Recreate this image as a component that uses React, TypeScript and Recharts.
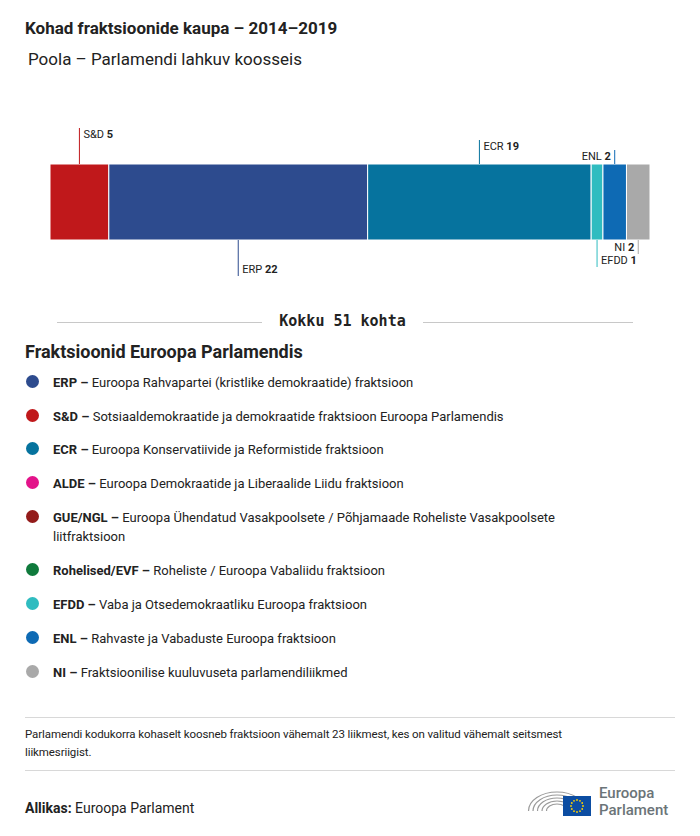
import { Bar, BarChart, LabelList, XAxis, YAxis } from 'recharts';

// seats per group, in bar order
const factions = ['S&D', 'ERP', 'ECR', 'EFDD', 'ENL', 'NI'];
const seats = [5, 22, 19, 1, 2, 2];
const total = 51;

const legendCodes = ['ERP', 'S&D', 'ECR', 'ALDE', 'GUE/NGL', 'Rohelised/EVF', 'EFDD', 'ENL', 'NI'];
const legendNames = [
    'Euroopa Rahvapartei (kristlike demokraatide) fraktsioon',
    'Sotsiaaldemokraatide ja demokraatide fraktsioon Euroopa Parlamendis',
    'Euroopa Konservatiivide ja Reformistide fraktsioon',
    'Euroopa Demokraatide ja Liberaalide Liidu fraktsioon',
    'Euroopa Ühendatud Vasakpoolsete / Põhjamaade Roheliste Vasakpoolsete',
    'Roheliste / Euroopa Vabaliidu fraktsioon',
    'Vaba ja Otsedemokraatliku Euroopa fraktsioon',
    'Rahvaste ja Vabaduste Euroopa fraktsioon',
    'Fraktsioonilise kuuluvuseta parlamendiliikmed',
];
// second line of wrapped legend entries
const legendCont: Record<string, string> = { 'GUE/NGL': 'liitfraktsioon' };

const colors: Record<string, string> = {
    ERP: '#2d4b8e',
    'S&D': '#c0181b',
    ECR: '#06739e',
    ALDE: '#e3138a',
    'GUE/NGL': '#931b1a',
    'Rohelised/EVF': '#0f7a3c',
    EFDD: '#2fbcc0',
    ENL: '#0e6ab4',
    NI: '#a9a9a9',
};

// callout placement for each segment label
const callouts: Record<string, { side: 'top' | 'bottom'; len: number; anchor: 'start' | 'end' }> = {
    'S&D': { side: 'top', len: 36, anchor: 'start' },
    ERP: { side: 'bottom', len: 36, anchor: 'start' },
    ECR: { side: 'top', len: 24, anchor: 'start' },
    EFDD: { side: 'bottom', len: 27, anchor: 'start' },
    ENL: { side: 'top', len: 14, anchor: 'end' },
    NI: { side: 'bottom', len: 14, anchor: 'end' },
};

const row: Record<string, string | number> = { name: 'Poola' };
factions.forEach((f, i) => (row[f] = seats[i]));
const data = [row];

const FONT = 'Roboto, "Noto Sans", sans-serif';

function makeCallout(name: string, value: number) {
    return (props: any) => {
        const { x, y, width, height } = props;
        const c = callouts[name];
        const cx = x + width / 2;
        const color = colors[name];
        const y0 = c.side === 'top' ? y - c.len : y + height;
        const y1 = c.side === 'top' ? y : y + height + c.len;
        const ty = c.side === 'top' ? y - c.len + 10 : y + height + c.len - 3;
        const tx = c.anchor === 'start' ? cx + 4 : cx - 4;
        return (
            <g>
                <line x1={cx} x2={cx} y1={y0} y2={y1} stroke={color} strokeWidth={1} />
                <text x={tx} y={ty} textAnchor={c.anchor} fontSize={11} fill="#222" fontFamily={FONT}>
                    {name} <tspan fontWeight="bold">{value}</tspan>
                </text>
            </g>
        );
    };
}

function EPLogo() {
    const stars = Array.from({ length: 12 }, (_, i) => i);
    return (
        <svg width={150} height={40} viewBox="0 0 150 40">
            {[19, 16, 13, 10, 7].map((r, i) => (
                <path
                    key={i}
                    d={`M ${30 - r * 1.5} 32 A ${r * 1.5} ${r} 0 0 1 ${30 + r * 1.5} 32`}
                    fill="none"
                    stroke="#9a9a9a"
                    strokeWidth={1.2}
                />
            ))}
            <rect x={36} y={17} width={28} height={20} fill="#0c4da2" />
            {stars.map((i) => {
                const a = (i / 12) * Math.PI * 2;
                return <circle key={i} cx={50 + Math.cos(a) * 6} cy={27 + Math.sin(a) * 6} r={0.9} fill="#ffd200" />;
            })}
            <text x={72} y={19} fontSize={15} fontWeight={500} fill="#6b7478" fontFamily={FONT}>
                Euroopa
            </text>
            <text x={72} y={36} fontSize={15} fontWeight={500} fill="#6b7478" fontFamily={FONT}>
                Parlament
            </text>
        </svg>
    );
}

export default function App() {
    const tops = [373, 407, 440, 474, 508, 561, 595, 629, 663];
    return (
        <div
            style={{
                position: 'absolute',
                top: 0,
                left: 0,
                width: 700,
                height: 836,
                background: '#fff',
                fontFamily: FONT,
                color: '#222',
            }}
        >
            <div style={{ position: 'absolute', left: 25, top: 18, fontSize: 17, fontWeight: 700 }}>
                Kohad fraktsioonide kaupa – 2014–2019
            </div>
            <div style={{ position: 'absolute', left: 28, top: 49, fontSize: 17 }}>
                Poola – Parlamendi lahkuv koosseis
            </div>

            <div style={{ position: 'absolute', left: 0, top: 100 }}>
                <BarChart
                    width={700}
                    height={200}
                    data={data}
                    layout="vertical"
                    margin={{ top: 64, right: 50, bottom: 60, left: 50 }}
                    barCategoryGap={0}
                >
                    <XAxis type="number" domain={[0, total]} hide />
                    <YAxis type="category" dataKey="name" hide width={0} />
                    {factions.map((f, i) => (
                        <Bar
                            key={f}
                            dataKey={f}
                            stackId="seats"
                            fill={colors[f]}
                            stroke="#fff"
                            strokeWidth={1}
                            isAnimationActive={false}
                        >
                            <LabelList dataKey={f} content={makeCallout(f, seats[i])} />
                        </Bar>
                    ))}
                </BarChart>
            </div>

            {/* total line */}
            <div style={{ position: 'absolute', left: 57, width: 205, top: 322, borderTop: '1px solid #c8c8c8' }} />
            <div style={{ position: 'absolute', left: 423, width: 210, top: 322, borderTop: '1px solid #c8c8c8' }} />
            <div
                style={{
                    position: 'absolute',
                    left: 262,
                    width: 161,
                    top: 312,
                    textAlign: 'center',
                    fontFamily: '"DejaVu Sans Mono", monospace',
                    fontWeight: 700,
                    fontSize: 15,
                }}
            >
                Kokku {total} kohta
            </div>

            <div style={{ position: 'absolute', left: 25, top: 341, fontSize: 18, fontWeight: 700 }}>
                Fraktsioonid Euroopa Parlamendis
            </div>

            {legendCodes.map((code, i) => (
                <div key={code} style={{ position: 'absolute', left: 25, top: tops[i], width: 600 }}>
                    <span
                        style={{
                            position: 'absolute',
                            left: 1,
                            top: 2,
                            width: 13,
                            height: 13,
                            borderRadius: '50%',
                            background: colors[code],
                        }}
                    />
                    <div style={{ marginLeft: 28, fontSize: 13, lineHeight: '19px', whiteSpace: 'nowrap' }}>
                        <b>{code} – </b>
                        {legendNames[i]}
                    </div>
                    {legendCont[code] && (
                        <div style={{ marginLeft: 28, fontSize: 13, lineHeight: '19px' }}>{legendCont[code]}</div>
                    )}
                </div>
            ))}

            <div style={{ position: 'absolute', left: 25, width: 650, top: 717, borderTop: '1px solid #d8d8d8' }} />
            <div
                style={{
                    position: 'absolute',
                    left: 25,
                    width: 620,
                    top: 725,
                    fontSize: 11.5,
                    lineHeight: '18px',
                    letterSpacing: -0.1,
                }}
            >
                <div>Parlamendi kodukorra kohaselt koosneb fraktsioon vähemalt 23 liikmest, kes on valitud vähemalt seitsmest</div>
                <div>liikmesriigist.</div>
            </div>
            <div style={{ position: 'absolute', left: 25, width: 650, top: 770, borderTop: '1px solid #d8d8d8' }} />

            <div style={{ position: 'absolute', left: 25, top: 800, fontSize: 14 }}>
                <b>Allikas:</b> Euroopa Parlament
            </div>
            <div style={{ position: 'absolute', left: 527, top: 779 }}>
                <EPLogo />
            </div>
        </div>
    );
}
